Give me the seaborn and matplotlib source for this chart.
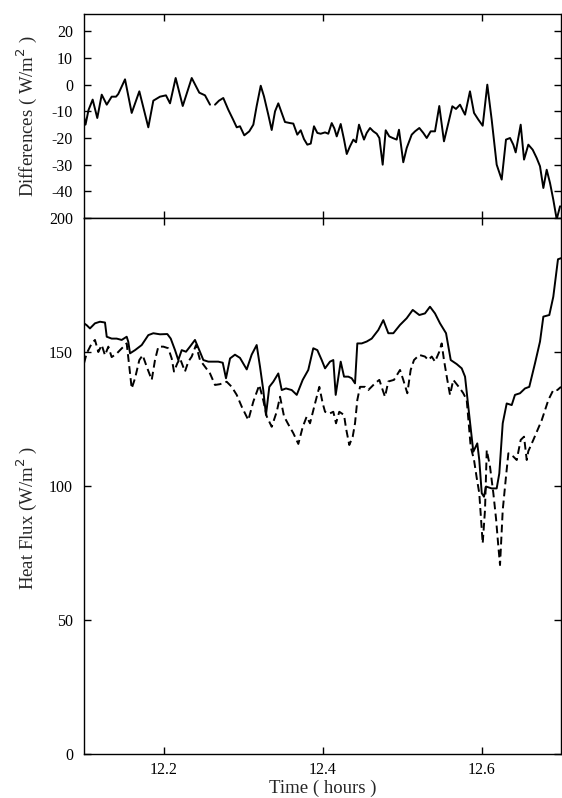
import numpy as np
import pandas as pd
import matplotlib
matplotlib.use("Agg")
import matplotlib.pyplot as plt
import seaborn as sns

# ---------------- data ----------------
diff_time = [12.1000, 12.1019, 12.1057, 12.1109, 12.1167, 12.1223, 12.1286, 12.1348, 12.1403, 12.1431,
             12.1516, 12.1600, 12.1696, 12.1809, 12.1872, 12.1956, 12.2031, 12.2082, 12.2153, 12.2242,
             12.2355, 12.2450, 12.2522, 12.2585, 12.2610, 12.2648, 12.2698, 12.2752, 12.2815, 12.2874,
             12.2921, 12.2962, 12.3016, 12.3079, 12.3130, 12.3172, 12.3223, 12.3264, 12.3318, 12.3361,
             12.3403, 12.3444, 12.3487, 12.3528, 12.3591, 12.3633, 12.3683, 12.3726, 12.3767, 12.3809,
             12.3852, 12.3893, 12.3935, 12.3977, 12.4032, 12.4073, 12.4116, 12.4149, 12.4179, 12.4229,
             12.4271, 12.4305, 12.4346, 12.4388, 12.4422, 12.4459, 12.4493, 12.4522, 12.4556, 12.4598,
             12.4639, 12.4682, 12.4715, 12.4757, 12.4795, 12.4840, 12.4883, 12.4933, 12.4962, 12.4987,
             12.5016, 12.5059, 12.5122, 12.5164, 12.5218, 12.5268, 12.5311, 12.5361, 12.5415, 12.5469,
             12.5528, 12.5583, 12.5633, 12.5679, 12.5730, 12.5771, 12.5793, 12.5855, 12.5906, 12.5960,
             12.6015, 12.6073, 12.6128, 12.6191, 12.6254, 12.6308, 12.6359, 12.6400, 12.6430, 12.6493,
             12.6535, 12.6589, 12.6644, 12.6694, 12.6736, 12.6778, 12.6820, 12.6862, 12.6903, 12.6946,
             12.6988]
diff_values = [-12, -15, -9.5, -5.6, -12.5, -3.75, -7.5, -4.5, -4.5, -3.5,
               2, -10.6, -2.5, -16, -6, -4.5, -4, -7, 2.5, -8,
               2.5, -3, -4, -7.5, np.nan, -7.5, -6, -5, -9.4, -13,
               -16, -15.6, -19, -17.5, -15, -8, -0.4, -4.4, -11.25, -17,
               -10, -7, -10.6, -14, -14.4, -14.6, -18.75, -17.1, -20.4, -22.5,
               -22.1, -15.6, -18.1, -18.4, -17.9, -18.4, -14.4, -16.4, -19.4, -14.75,
               -20.6, -26, -23.1, -20.6, -21.6, -15, -18.1, -20.6, -18.1, -16.25,
               -17.5, -18.4, -20, -30, -17.1, -19.4, -20, -20.6, -16.9, -22.5,
               -29.1, -23.75, -18.75, -17.5, -16.25, -18.1, -20, -17.5, -17.5, -8,
               -21.25, -14.4, -8.1, -9.1, -7.5, -10, -11.25, -2.5, -10.6, -13.1,
               -15.4, 0, -13.1, -30, -35.6, -20.6, -20, -22.5, -25.4, -15,
               -28.1, -22.5, -24.4, -27.5, -30.6, -38.75, -31.9, -36.9, -43.1, -50.5,
               -45.6]

solid_time = [12.1000, 12.1034, 12.1075, 12.1138, 12.1201, 12.1264, 12.1286, 12.1348, 12.1411, 12.1474,
              12.1537, 12.1557, 12.1579, 12.1642, 12.1726, 12.1809, 12.1872, 12.1956, 12.2048, 12.2091,
              12.2145, 12.2186, 12.2229, 12.2283, 12.2333, 12.2396, 12.2450, 12.2501, 12.2564, 12.2626,
              12.2689, 12.2745, 12.2786, 12.2837, 12.2899, 12.2962, 12.3047, 12.3109, 12.3172, 12.3214,
              12.3255, 12.3289, 12.3331, 12.3381, 12.3444, 12.3487, 12.3541, 12.3613, 12.3676, 12.3751,
              12.3821, 12.3884, 12.3935, 12.3990, 12.4032, 12.4094, 12.4136, 12.4166, 12.4229, 12.4271,
              12.4325, 12.4367, 12.4409, 12.4438, 12.4493, 12.4556, 12.4619, 12.4702, 12.4765, 12.4828,
              12.4891, 12.4975, 12.5059, 12.5135, 12.5218, 12.5289, 12.5352, 12.5415, 12.5478, 12.5554,
              12.5613, 12.5688, 12.5751, 12.5793, 12.5834, 12.5897, 12.5947, 12.5972, 12.6003, 12.6031,
              12.6057, 12.6128, 12.6191, 12.6224, 12.6267, 12.6317, 12.6380, 12.6421, 12.6484, 12.6547,
              12.6601, 12.6673, 12.6736, 12.6778, 12.6853, 12.6903, 12.6962, 12.7000]
solid_flux = [160.7, 160, 158.8, 160.7, 161.3, 161, 155.7, 155, 155, 154.5,
              155.7, 153.8, 149.5, 150.7, 152.6, 156.3, 157, 156.6, 156.7, 155,
              150.7, 147, 150.7, 150.1, 152, 154.5, 150.7, 147, 146.4, 146.4,
              146.4, 146, 140.2, 147.6, 149, 147.8, 143.5, 149, 152.6, 144.5,
              135.8, 126.5, 137, 138.9, 142, 135.8, 136.4, 135.8, 134, 139.6,
              143.3, 151.4, 150.7, 147, 143.9, 146.4, 147, 134, 146.4, 140.8,
              140.8, 140.2, 138.3, 153.2, 153.2, 153.9, 155, 158.2, 161.9, 157,
              157, 160.1, 162.6, 165.7, 163.8, 164.4, 166.9, 164.4, 160.7, 157,
              147, 145.5, 143.9, 140.8, 129.6, 112.8, 115.9, 109.7, 97.3, 96,
              99.8, 99.1, 99.1, 104.7, 123.4, 130.8, 130.2, 134, 134.6, 136.4,
              137, 145.8, 153.9, 163.2, 163.8, 170.6, 184.6, 185]

dashed_time = [12.1000, 12.1034, 12.1097, 12.1138, 12.1180, 12.1223, 12.1264, 12.1306, 12.1348, 12.1411,
               12.1453, 12.1537, 12.1570, 12.1600, 12.1642, 12.1696, 12.1738, 12.1789, 12.1852, 12.1893,
               12.1935, 12.1998, 12.2060, 12.2103, 12.2132, 12.2174, 12.2208, 12.2270, 12.2312, 12.2355,
               12.2409, 12.2459, 12.2522, 12.2585, 12.2648, 12.2711, 12.2795, 12.2858, 12.2921, 12.2984,
               12.3067, 12.3130, 12.3205, 12.3255, 12.3298, 12.3361, 12.3424, 12.3466, 12.3516, 12.3570,
               12.3633, 12.3696, 12.3751, 12.3801, 12.3843, 12.3906, 12.3960, 12.4003, 12.4032, 12.4086,
               12.4136, 12.4170, 12.4211, 12.4271, 12.4296, 12.4337, 12.4380, 12.4409, 12.4438, 12.4472,
               12.4535, 12.4576, 12.4660, 12.4715, 12.4757, 12.4786, 12.4828, 12.4899, 12.4975, 12.5016,
               12.5067, 12.5109, 12.5151, 12.5218, 12.5289, 12.5331, 12.5374, 12.5415, 12.5469, 12.5499,
               12.5528, 12.5570, 12.5604, 12.5645, 12.5730, 12.5771, 12.5814, 12.5864, 12.5906, 12.5940,
               12.5972, 12.6015, 12.6044, 12.6066, 12.6107, 12.6149, 12.6183, 12.6212, 12.6233, 12.6267,
               12.6308, 12.6338, 12.6400, 12.6443, 12.6493, 12.6535, 12.6569, 12.6589, 12.6652, 12.6758,
               12.6841, 12.6903, 12.6954, 12.7000]
dashed_flux = [145.8, 149.5, 153.2, 154.5, 150, 152.6, 148.8, 152, 148.1, 149.4,
               150.7, 153.2, 144.5, 136.4, 140.2, 147, 148.8, 144.5, 139.6, 147,
               152, 152, 151.4, 147.6, 142.7, 145.8, 147.6, 142.7, 146.4, 148.3,
               152.6, 147, 144.5, 142, 137.7, 138, 138.9, 137, 134, 129.6,
               124.6, 131.5, 137.7, 132, 126, 122.1, 127.7, 133.3, 126, 123,
               119.7, 115.7, 122, 125.9, 123.4, 130.8, 137, 130.8, 127.7, 127,
               127.7, 123.4, 127.7, 126.5, 121.5, 115.3, 118.4, 123.4, 132.1, 137,
               137, 135.8, 138.3, 139.6, 135.8, 133.3, 139, 139.6, 143.3, 139.6,
               134.6, 143.3, 147, 148.9, 148.3, 147, 148.3, 146.4, 150.1, 153.2,
               147, 139.6, 134, 139.6, 136.4, 134.6, 132.1, 114.7, 109.7, 103,
               97.3, 78.6, 91, 113.4, 107.2, 97.3, 87.8, 77.4, 70.5, 91,
               103.5, 112.2, 111, 109.7, 117.2, 118.4, 109.7, 113, 117.2, 124.6,
               132.1, 135.8, 135.8, 137]

x_ticks = [12.2, 12.4, 12.6]
x_tick_labels = ["12.2", "12.4", "12.6"]
diff_ticks = [20, 10, 0, -10, -20, -30, -40]
flux_ticks = [0, 50, 100, 150, 200]

# ---------------- tables ----------------
diff_df = pd.DataFrame({"time": diff_time, "diff": diff_values})
diff_df["segment"] = diff_df["diff"].isna().cumsum()
diff_df = diff_df.dropna()
solid_df = pd.DataFrame({"time": solid_time, "flux": solid_flux})
dashed_df = pd.DataFrame({"time": dashed_time, "flux": dashed_flux})

# ---------------- style ----------------
sns.set_theme(style="ticks")
plt.rcParams["font.family"] = ["Liberation Serif", "DejaVu Serif"]
plt.rcParams["axes.unicode_minus"] = False
plt.rcParams["axes.linewidth"] = 1.0
plt.rcParams["axes.edgecolor"] = "black"
plt.rcParams["xtick.color"] = "black"
plt.rcParams["ytick.color"] = "black"

W, H = 562, 798
fig = plt.figure(figsize=(W / 100, H / 100), dpi=100)
left = 84 / W
width = 477 / W
ax1 = fig.add_axes([left, 1 - 218 / H, width, (218 - 14) / H])
ax2 = fig.add_axes([left, 1 - 754 / H, width, (754 - 218) / H])

lw = 1.4
sns.lineplot(data=diff_df, x="time", y="diff", units="segment", estimator=None,
             color="black", linewidth=lw, ax=ax1)
sns.lineplot(data=solid_df, x="time", y="flux", color="black", linewidth=lw, ax=ax2)
sns.lineplot(data=dashed_df, x="time", y="flux", color="black", linewidth=lw,
             linestyle=(0, (4.0, 2.2)), ax=ax2)

for ax in (ax1, ax2):
    ax.set_xlim(12.1, 12.7)
    ax.set_xticks(x_ticks)
    ax.tick_params(axis="both", direction="in", top=True, right=True,
                   length=5, width=1.0, labelsize=11.5, pad=8, colors="black")
    for s in ax.spines.values():
        s.set_visible(True)
        s.set_color("black")
        s.set_linewidth(1.0)

ax1.set_ylim(-50, 26.5)
ax1.set_yticks(diff_ticks)
ax1.set_yticklabels([str(v) for v in diff_ticks])
ax1.set_xticklabels([])
ax1.set_xlabel("")
ax1.set_ylabel("Differences ( W/m$^2$ )", fontsize=13.5)
ax1.yaxis.set_label_coords(-0.095, 0.5)

ax2.set_ylim(0, 200)
ax2.set_yticks(flux_ticks)
ax2.set_yticklabels([str(v) for v in flux_ticks])
ax2.set_xticklabels(x_tick_labels)
ax2.tick_params(axis="x", pad=6)
ax2.set_xlabel("Time ( hours )", fontsize=13.5, labelpad=1)
ax2.set_ylabel("Heat Flux (W/m$^2$ )", fontsize=13.5)
ax2.yaxis.set_label_coords(-0.095, 0.44)

fig.savefig("out.png", dpi=100)
